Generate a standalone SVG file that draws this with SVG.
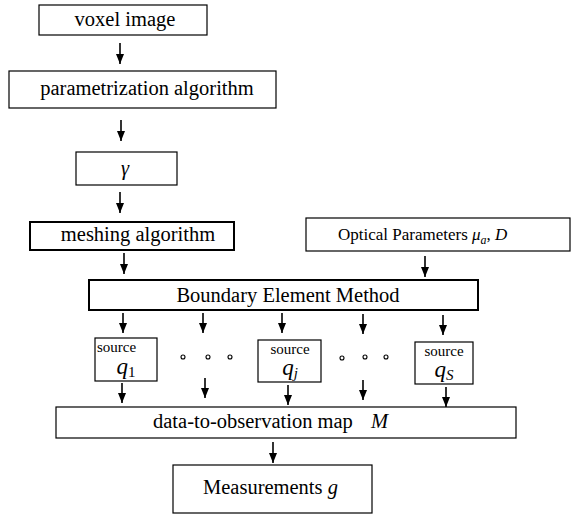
<svg xmlns="http://www.w3.org/2000/svg" width="571" height="516" viewBox="0 0 571 516">
<defs>
<marker id="ah" markerUnits="userSpaceOnUse" markerWidth="10" markerHeight="8" refX="10" refY="4" orient="auto" viewBox="0 0 10 8">
<path d="M0,0 L10,4 L0,8 Z" fill="#000"/>
</marker>
</defs>
<style>
rect.box{fill:#fff;stroke:#000;stroke-width:1.2}
rect.thick{stroke-width:2}
#connectors line{stroke:#000;stroke-width:1.6}
</style>
<rect width="571" height="516" fill="#fff"/>
<g id="voxel"><rect class="box" x="39" y="5" width="168" height="30"/><text font-family="'Liberation Serif', serif" font-size="20.5" x="125" y="26" text-anchor="middle">voxel image</text></g>
<g id="param"><rect class="box" x="9" y="71" width="267" height="37"/><text font-family="'Liberation Serif', serif" font-size="20.5" x="147" y="95" text-anchor="middle">parametrization algorithm</text></g>
<g id="gamma"><rect class="box" x="76" y="152" width="101" height="33"/><text font-family="'Liberation Serif', serif" font-size="20.5" font-style="italic" x="125" y="175" text-anchor="middle">γ</text></g>
<g id="mesh"><rect class="box thick" x="30" y="222" width="204" height="28"/><text font-family="'Liberation Serif', serif" font-size="20.5" x="138" y="241" text-anchor="middle">meshing algorithm</text></g>
<g id="optical"><rect class="box" x="306" y="218" width="264" height="33"/><text font-family="'Liberation Serif', serif" font-size="17" x="338" y="240">Optical Parameters  <tspan font-style="italic">μ</tspan><tspan font-style="italic" font-size="12" dy="4">a</tspan><tspan dy="-4">, </tspan><tspan font-style="italic">D</tspan></text></g>
<g id="bem"><rect class="box thick" x="89" y="280" width="389" height="30"/><text font-family="'Liberation Serif', serif" font-size="20.5" x="288" y="302" text-anchor="middle">Boundary Element Method</text></g>
<g id="src1"><rect class="box" x="95" y="338" width="62" height="43"/><text font-family="'Liberation Serif', serif" font-size="15" x="97" y="352">source</text><text font-family="'Liberation Serif', serif" font-size="23" x="126" y="374" text-anchor="middle"><tspan font-style="italic">q</tspan><tspan font-size="15" dy="3">1</tspan></text></g>
<g id="srcj"><rect class="box" x="258" y="340" width="63" height="42"/><text font-family="'Liberation Serif', serif" font-size="15" x="290" y="354" text-anchor="middle">source</text><text font-family="'Liberation Serif', serif" font-size="23" x="290" y="375" text-anchor="middle"><tspan font-style="italic">q</tspan><tspan font-style="italic" font-size="15" dy="3">j</tspan></text></g>
<g id="srcS"><rect class="box" x="415" y="342" width="58" height="42"/><text font-family="'Liberation Serif', serif" font-size="15" x="444" y="356" text-anchor="middle">source</text><text font-family="'Liberation Serif', serif" font-size="23" x="444" y="377" text-anchor="middle"><tspan font-style="italic">q</tspan><tspan font-style="italic" font-size="15" dy="3">S</tspan></text></g>
<g id="dtomap"><rect class="box" x="56" y="407" width="460" height="31"/><text font-family="'Liberation Serif', serif" font-size="20.5" x="153" y="428">data-to-observation map</text><text font-family="'Liberation Serif', serif" font-size="20.5" font-style="italic" x="371" y="428">M</text></g>
<g id="meas"><rect class="box" x="173" y="465" width="199" height="48"/><text font-family="'Liberation Serif', serif" font-size="20.5" x="203" y="494">Measurements  <tspan font-style="italic">g</tspan></text></g>
<g id="dots1" fill="none" stroke="#000" stroke-width="1.1"><circle cx="183" cy="357" r="2"/><circle cx="208" cy="357" r="2"/><circle cx="230" cy="357" r="2"/></g>
<g id="dots2" fill="none" stroke="#000" stroke-width="1.1"><circle cx="342" cy="358" r="2"/><circle cx="365" cy="357" r="2"/><circle cx="386" cy="357" r="2"/></g>

<g id="connectors">
<line x1="120" y1="43" x2="120" y2="64" marker-end="url(#ah)"/>
<line x1="121" y1="120" x2="121" y2="141" marker-end="url(#ah)"/>
<line x1="120" y1="192" x2="120" y2="213" marker-end="url(#ah)"/>
<line x1="124" y1="253" x2="124" y2="274" marker-end="url(#ah)"/>
<line x1="425" y1="256" x2="425" y2="277" marker-end="url(#ah)"/>
<line x1="123" y1="313" x2="123" y2="333" marker-end="url(#ah)"/>
<line x1="203" y1="313" x2="203" y2="333" marker-end="url(#ah)"/>
<line x1="282" y1="313" x2="282" y2="333" marker-end="url(#ah)"/>
<line x1="363" y1="314" x2="363" y2="334" marker-end="url(#ah)"/>
<line x1="443" y1="315" x2="443" y2="335" marker-end="url(#ah)"/>
<line x1="122" y1="383" x2="122" y2="403" marker-end="url(#ah)"/>
<line x1="205" y1="378" x2="205" y2="398" marker-end="url(#ah)"/>
<line x1="288" y1="385" x2="288" y2="405" marker-end="url(#ah)"/>
<line x1="363" y1="380" x2="363" y2="400" marker-end="url(#ah)"/>
<line x1="446" y1="387" x2="446" y2="407" marker-end="url(#ah)"/>
<line x1="273" y1="442" x2="273" y2="463" marker-end="url(#ah)"/>
</g>
</svg>
